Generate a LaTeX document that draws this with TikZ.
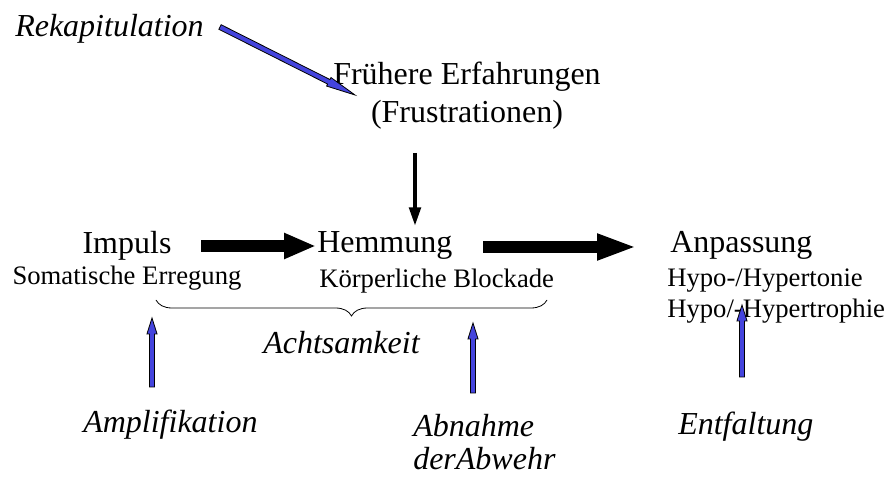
\documentclass[tikz,border=0pt]{standalone}
\usepackage{fontspec}
\setmainfont{Liberation Serif}[
  ItalicFont={Liberation Serif Italic},
  BoldFont={Liberation Serif Bold},
  BoldItalicFont={Liberation Serif Bold Italic}]
\usetikzlibrary{arrows.meta,calc,decorations.pathreplacing}
\definecolor{arrowblue}{RGB}{68,68,221}
\tikzset{
  big/.style={font=\fontsize{24}{28}\selectfont, inner sep=0pt},
  small/.style={font=\fontsize{20}{24}\selectfont, inner sep=0pt},
  slanted/.style={font=\fontsize{24}{28}\selectfont\itshape, inner sep=0pt},
  flowarrow/.style={line width=9pt, -{Triangle[length=#1, width=18pt]}},
  feedarrow/.style={line width=3pt, -{Triangle[length=14pt, width=8.5pt]}},
  bluearrow/.style={fill=arrowblue, draw=black, line width=0.6pt, line join=miter},
  achtbrace/.style={decorate, decoration={brace, mirror, amplitude=12pt}, line width=0.6pt},
}
% outlined blue arrow: tail, tip, head length, head half-width
\newcommand\blarrow[4]{%
  \coordinate (hdbase) at ($(#2)!#3!(#1)$);
  \filldraw[bluearrow]
    ($(#1)!1.9pt!90:(#2)$) -- ($(hdbase)!1.9pt!90:(#2)$) --
    ($(hdbase)!#4!90:(#2)$) -- (#2) -- ($(hdbase)!#4!-90:(#2)$) --
    ($(hdbase)!1.9pt!-90:(#2)$) -- ($(#1)!1.9pt!-90:(#2)$) -- cycle;
}
\begin{document}
\begin{tikzpicture}[x=0.75pt, y=-0.75pt]
\useasboundingbox (0,0) rectangle (890,477);

% texts
\node[slanted, anchor=base west] (rek) at (15,37) {Rekapitulation};
\node[big, anchor=base] (fr1) at (467,85) {Frühere Erfahrungen};
\node[big, anchor=base] (fr2) at (467,123) {(Frustrationen)};

\node[big, anchor=base] (imp) at (127,254) {Impuls};
\node[small, anchor=base] (som) at (127,285) {Somatische Erregung};
\node[big, anchor=base west] (hem) at (317,253) {Hemmung};
\node[small, anchor=base west] (koe) at (319,288) {Körperliche Blockade};
\node[big, anchor=base west] (anp) at (670,253) {Anpassung};
\node[small, anchor=base west] (hy1) at (667,287) {Hypo-/Hypertonie};
\node[small, anchor=base west] (hy2) at (667,318) {Hypo/-Hypertrophie};

\node[slanted, anchor=base west] (acht) at (263,354) {Achtsamkeit};
\node[slanted, anchor=base west] (ampl) at (83,433) {Amplifikation};
\node[slanted, anchor=base west] (abn1) at (413,437) {Abnahme};
\node[slanted, anchor=base west] (abn2) at (413,470) {derAbwehr};
\node[slanted, anchor=base west] (entf) at (678,435) {Entfaltung};

% arrow end points
\coordinate (rekT) at (220,27);   \coordinate (rekH) at (355,95);
\coordinate (frT)  at (415,153);  \coordinate (frH)  at (415,226);
\coordinate (f1T)  at (201,246);  \coordinate (f1H)  at (316,246);
\coordinate (f2T)  at (483,247);  \coordinate (f2H)  at (637,247);
\coordinate (amT)  at (152,387);  \coordinate (amH)  at (152,318);
\coordinate (abT)  at (473,393);  \coordinate (abH)  at (473,323);
\coordinate (enT)  at (742,377);  \coordinate (enH)  at (742,305);
\coordinate (brL)  at (156,300);  \coordinate (brR)  at (547,300);

% main flow
\draw[flowarrow=24pt] (f1T) -- (f1H);
\draw[flowarrow=30pt] (f2T) -- (f2H);
\draw[feedarrow] (frT) -- (frH);

% brace
\draw[achtbrace] (brL) -- (brR);

% blue arrows
\blarrow{rekT}{rekH}{22pt}{3.6pt}
\blarrow{amT}{amH}{12pt}{3.8pt}
\blarrow{abT}{abH}{12pt}{3.8pt}
\blarrow{enT}{enH}{12pt}{3.8pt}
\end{tikzpicture}
\end{document}
